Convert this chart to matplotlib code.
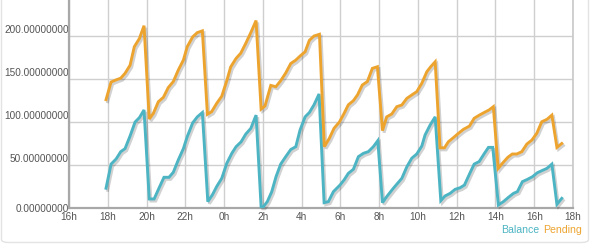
import matplotlib
matplotlib.use("Agg")
import matplotlib.pyplot as plt
import matplotlib.patheffects as pe
from matplotlib.patches import FancyBboxPatch
from matplotlib.transforms import ScaledTranslation

# hours after 16:00 on the first day
pending_t = [1.91, 2.17, 2.43, 2.67, 2.89, 3.15, 3.37, 3.63, 3.87, 4.14, 4.35, 4.61, 4.87, 5.12,
             5.38, 5.64, 5.90, 6.10, 6.38, 6.62, 6.88, 7.14, 7.36, 7.62, 7.88, 8.14, 8.34, 8.62,
             8.86, 9.12, 9.38, 9.65, 9.91, 10.11, 10.41, 10.67, 10.92, 11.18, 11.44, 11.70, 11.92,
             12.18, 12.40, 12.64, 12.92, 13.17, 13.43, 13.67, 13.95, 14.19, 14.41, 14.67, 14.88,
             15.13, 15.39, 15.65, 15.91, 16.17, 16.39, 16.65, 16.91, 17.17, 17.43, 17.68, 17.94,
             18.20, 18.46, 18.66, 18.89, 19.14, 19.37, 19.57, 19.83, 20.09, 20.35, 20.66, 20.90,
             21.17, 21.43, 21.67, 21.89, 22.14, 22.36, 22.64, 22.87, 23.10, 23.36, 23.62, 23.88,
             24.13, 24.39, 24.65, 24.91, 25.17, 25.42]
pending_v = [126, 146.5, 149, 151, 156.6, 166, 187.6, 197, 212, 103.5, 110, 123.6, 128.7, 140,
             147, 160.5, 172, 187.6, 199, 204, 206, 109, 112, 121.7, 130, 148, 164, 174,
             180, 191.5, 204, 218, 115, 118.6, 142.6, 141, 148, 157, 168, 172, 176.7,
             181.7, 195, 200, 202, 71.3, 81, 92.6, 100, 110, 120, 124.8, 131.4,
             143, 147, 162.4, 164.3, 90, 106, 109.3, 117.8, 119.8, 127.5, 131.4, 135.3,
             145, 158.5, 164.3, 170, 70, 70, 77, 81.8, 86.8, 91.5, 95.3, 104.3,
             108, 111.2, 114, 117.8, 46, 52, 59, 62.8, 62.8, 65.5, 74.4, 79,
             86.8, 100.3, 103, 108, 70.5, 75]

balance_t = [1.91, 2.17, 2.43, 2.67, 2.89, 3.15, 3.41, 3.63, 3.87, 4.14, 4.39, 4.64, 4.90, 5.16,
             5.38, 5.64, 5.90, 6.10, 6.38, 6.62, 6.88, 7.16, 7.39, 7.62, 7.88, 8.14, 8.40, 8.62,
             8.88, 9.12, 9.38, 9.65, 9.91, 10.03, 10.23, 10.46, 10.68, 10.92, 11.18, 11.44, 11.70,
             11.92, 12.18, 12.40, 12.64, 12.90, 13.16, 13.38, 13.64, 13.98, 14.19, 14.41, 14.67,
             14.93, 15.19, 15.44, 15.70, 15.93, 16.17, 16.39, 16.73, 17.17, 17.43, 17.68, 17.94,
             18.20, 18.37, 18.63, 18.89, 19.18, 19.40, 19.66, 19.92, 20.18, 20.40, 20.66, 20.90,
             21.16, 21.41, 21.64, 21.86, 22.15, 22.41, 22.67, 22.93, 23.13, 23.39, 23.65, 23.91,
             24.16, 24.39, 24.65, 24.91, 25.17, 25.42]
balance_v = [23, 51, 57, 65.5, 69, 83.7, 100, 105, 114, 10.5, 10.5, 23, 35.7, 35.7,
             41.5, 56, 69, 83, 99, 106, 111, 7.4, 15, 25, 34.5, 52, 63.6, 71.3,
             77, 86, 92.6, 108, 1.5, 1.5, 7.4, 19, 36.4, 51, 59.7, 68, 71.3,
             90.7, 106, 111, 120, 132.6, 6.2, 7.4, 19, 26.7, 32.6, 40.3, 45,
             59.7, 63.6, 65.5, 71.3, 78.3, 6.2, 13.2, 22.9, 34.5, 48, 57.8, 62.8,
             72, 85, 96.5, 106, 8.5, 14, 17, 21.7, 23.6, 26.7, 39.5, 51,
             54, 62.8, 70.5, 70.5, 3.5, 7.4, 12.4, 17, 19, 30.6, 33.3, 36.4,
             41, 43.4, 46, 51, 4.3, 11.2]

x_ticks = [0, 2, 4, 6, 8, 10, 12, 14, 16, 18, 20, 22, 24, 26]
x_labels = ["16h", "18h", "20h", "22h", "0h", "2h", "4h", "6h", "8h", "10h", "12h", "14h", "16h", "18h"]
y_ticks = [0, 50, 100, 150, 200]
y_labels = ["%.8f" % v for v in y_ticks]

series_names = ["Balance", "Pending"]
c_bal = "#4cb4c3"
c_pen = "#eda42f"

plt.rcParams['font.family'] = ['Liberation Sans', 'DejaVu Sans']

fig = plt.figure(figsize=(5.93, 2.49), dpi=100)
fig.patch.set_facecolor("white")

# panel border
panel = FancyBboxPatch((1.5 / 593, 6.5 / 249), 587 / 593, 260 / 249,
                       boxstyle="round,pad=0,rounding_size=0.012",
                       transform=fig.transFigure, facecolor="none",
                       edgecolor="#e3e3e3", linewidth=1.0, zorder=0)
fig.patches.append(panel)

ax = fig.add_axes([69 / 593, 41 / 249, 504 / 593, 208 / 249])
ax.set_xlim(0, 26)
ax.set_ylim(0, 241.9)
ax.set_facecolor("none")

shadow = [pe.SimpleLineShadow(offset=(1.2, -1.5), shadow_color="#000000", alpha=0.18),
          pe.Normal()]
ax.plot(balance_t, balance_v, color=c_bal, lw=2.1, solid_joinstyle="miter",
        path_effects=shadow, zorder=3, clip_on=False)
ax.plot(pending_t, pending_v, color=c_pen, lw=2.1, solid_joinstyle="miter",
        path_effects=shadow, zorder=3, clip_on=False)

ax.set_xticks(x_ticks)
ax.set_xticklabels(x_labels)
ax.set_yticks(y_ticks)
ax.set_yticklabels(y_labels)
ax.grid(True, color="#cfcfcf", linewidth=1.0)
ax.set_axisbelow(True)
ax.tick_params(length=0, labelsize=7.2, colors="#545454", pad=3)
ax.tick_params(axis="y", pad=0)

for lbl, v in zip(ax.get_yticklabels(), y_ticks):
    if v != 0:
        lbl.set_transform(lbl.get_transform() + ScaledTranslation(0, 7 / 100, fig.dpi_scale_trans))

for s in ["left", "bottom"]:
    ax.spines[s].set_color("#a8a8a8")
    ax.spines[s].set_linewidth(1.6)
ax.spines["right"].set_color("#c8c8c8")
ax.spines["right"].set_linewidth(1.2)
ax.spines["top"].set_visible(False)

fig.text(582 / 593, 1 - 230 / 249, series_names[1], color=c_pen, fontsize=7.6,
         ha="right", va="center")
fig.text(501 / 593, 1 - 230 / 249, series_names[0], color=c_bal, fontsize=7.6,
         ha="left", va="center")

fig.savefig("out.png", dpi=100, facecolor="white")
